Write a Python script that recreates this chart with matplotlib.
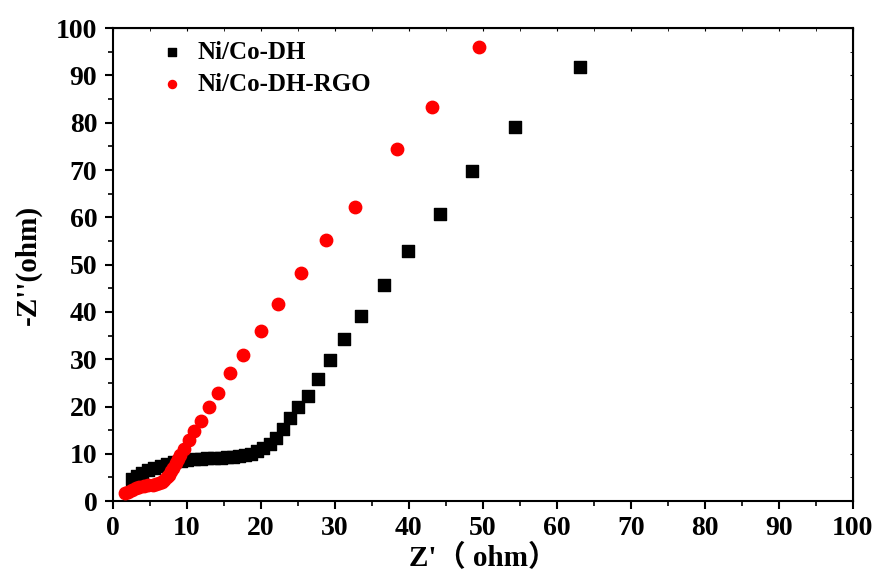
import matplotlib
matplotlib.use('Agg')
import matplotlib.pyplot as plt
from matplotlib.ticker import MultipleLocator

# Ni/Co-DH data (Nyquist plot)
dh_x = [2.6, 3.3, 4.0, 4.8, 5.6, 6.5, 7.4, 8.3, 9.2, 10.1, 11.0, 11.9, 12.8, 13.7, 14.6,
        15.5, 16.3, 17.1, 17.9, 18.7, 19.5, 20.3, 21.2, 22.1, 23.0, 24.0, 25.1, 26.4, 27.7,
        29.4, 31.3, 33.5, 36.6, 39.9, 44.2, 48.6, 54.4, 63.1]
dh_y = [4.6, 5.4, 6.0, 6.6, 7.1, 7.5, 7.9, 8.2, 8.5, 8.7, 8.9, 9.0, 9.1, 9.2, 9.2,
        9.3, 9.4, 9.5, 9.7, 10.0, 10.5, 11.2, 12.1, 13.4, 15.2, 17.6, 19.8, 22.3, 25.8,
        29.8, 34.3, 39.2, 45.7, 52.9, 60.7, 69.8, 79.2, 91.7]

# Ni/Co-DH-RGO data
rgo_x = [1.7, 2.1, 2.6, 3.1, 3.6, 4.2, 4.8, 5.4, 5.9, 6.3, 6.7, 7.0, 7.3, 7.6, 7.9, 8.2,
         8.5, 8.8, 9.1, 9.6, 10.3, 11.0, 11.9, 13.0, 14.2, 15.9, 17.6, 20.0, 22.4, 25.5,
         28.8, 32.8, 38.4, 43.1, 49.5]
rgo_y = [1.7, 2.0, 2.4, 2.7, 3.0, 3.2, 3.3, 3.4, 3.6, 3.8, 4.1, 4.5, 5.0, 5.6, 6.3, 7.1,
         8.0, 8.9, 9.8, 11.0, 13.0, 14.8, 17.0, 19.9, 22.9, 27.1, 30.9, 35.9, 41.6, 48.2,
         55.2, 62.2, 74.4, 83.3, 96.0]

serif = ['Liberation Serif', 'Noto Sans CJK SC']
plt.rcParams['font.family'] = serif
plt.rcParams['font.weight'] = 'bold'

fig = plt.figure(figsize=(8.8, 5.74), dpi=100)
ax = fig.add_axes([0.128, 0.127, 0.841, 0.824])

ax.scatter(dh_x, dh_y, marker='s', s=65, color='black', label='Ni/Co-DH', zorder=3)
ax.scatter(rgo_x, rgo_y, marker='o', s=80, color='red', label='Ni/Co-DH-RGO', zorder=3)

ax.set_xlim(0, 100)
ax.set_ylim(0, 100)
ax.xaxis.set_major_locator(MultipleLocator(10))
ax.xaxis.set_minor_locator(MultipleLocator(5))
ax.yaxis.set_major_locator(MultipleLocator(10))
ax.yaxis.set_minor_locator(MultipleLocator(5))

ax.tick_params(which='major', direction='out', length=6, width=1.5, labelsize=20, pad=5)
ax.tick_params(which='minor', direction='out', length=3.5, width=1.2)
for s in ax.spines.values():
    s.set_linewidth(1.5)

# small inward ticks on top/right
sec_x = ax.secondary_xaxis('top')
sec_x.xaxis.set_major_locator(MultipleLocator(10))
sec_x.xaxis.set_minor_locator(MultipleLocator(5))
sec_x.tick_params(which='both', direction='in', length=2, labeltop=False)
sec_y = ax.secondary_yaxis('right')
sec_y.yaxis.set_major_locator(MultipleLocator(10))
sec_y.yaxis.set_minor_locator(MultipleLocator(5))
sec_y.tick_params(which='both', direction='in', length=2, labelright=False)

for lbl in ax.get_xticklabels() + ax.get_yticklabels():
    lbl.set_fontweight('bold')

ax.set_xlabel("Z'（ ohm）", fontsize=21, fontweight='bold', labelpad=2)
ax.set_ylabel("-Z''(ohm)", fontsize=21, fontweight='bold', labelpad=10)

ax.legend(loc='upper left', bbox_to_anchor=(0.023, 1.01), frameon=False,
          prop={'family': serif, 'weight': 'bold', 'size': 18},
          handletextpad=0.0, labelspacing=0.35, markerscale=0.65, borderpad=0.2)

plt.savefig('out.png', dpi=100)
